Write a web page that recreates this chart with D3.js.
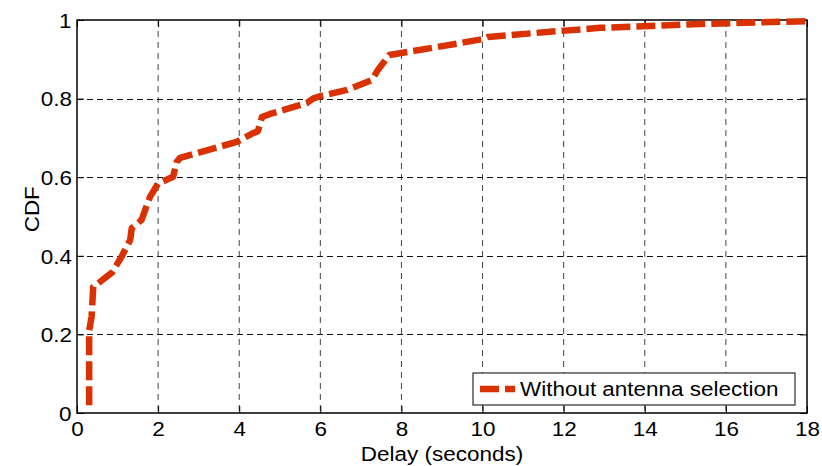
<!DOCTYPE html>
<html>
<head>
<meta charset="utf-8">
<script src="https://cdn.jsdelivr.net/npm/d3@7"></script>
<style>
  html, body { margin: 0; padding: 0; background: #fff; }
  svg text { font-family: "Liberation Sans", Arial, sans-serif; fill: #000;
    transform-box: fill-box; transform-origin: center; }
  .wide { transform: scaleX(1.07); }
</style>
</head>
<body>
<svg id="chart" width="822" height="466"></svg>
<script>
// ---- data ----
const delay = [0.30, 0.30, 0.36, 0.40, 0.57, 0.86, 1.10, 1.31, 1.35, 1.59, 1.80, 2.00, 2.37, 2.46, 2.54, 3.94, 4.34, 4.46, 4.56, 4.76, 5.67, 5.82, 5.99, 6.66, 7.27, 7.42, 7.70, 8.87, 9.99, 10.13, 11.66, 12.9, 15.36, 16.84, 18.0];
const cdf   = [0.02, 0.21, 0.245, 0.321, 0.334, 0.357, 0.398, 0.44, 0.47, 0.491, 0.55, 0.584, 0.601, 0.639, 0.649, 0.69, 0.712, 0.717, 0.753, 0.761, 0.789, 0.80, 0.806, 0.822, 0.847, 0.873, 0.911, 0.931, 0.951, 0.957, 0.97, 0.98, 0.99, 0.994, 0.997];
const xTicks = [0, 2, 4, 6, 8, 10, 12, 14, 16, 18];
const yTicks = [0, 0.2, 0.4, 0.6, 0.8, 1];
const yTickLabels = ["0", "0.2", "0.4", "0.6", "0.8", "1"];
const seriesName = "Without antenna selection";
const xLabel = "Delay (seconds)";
const yLabel = "CDF";

// ---- layout ----
const L = 77, R = 807, T = 20, B = 413;
const color = "#da3100";
const svg = d3.select("#chart");
const x = d3.scaleLinear().domain([0, 18]).range([L, R]);
const y = d3.scaleLinear().domain([0, 1]).range([B, T]);

// grid
const grid = svg.append("g");
grid.selectAll(".vg").data(xTicks.slice(1, -1)).enter().append("line")
  .attr("x1", d => x(d)).attr("x2", d => x(d)).attr("y1", T).attr("y2", B)
  .attr("stroke", "#444").attr("stroke-width", 1).attr("stroke-dasharray", "6,5");
grid.selectAll(".hg").data(yTicks.slice(1, -1)).enter().append("line")
  .attr("x1", L).attr("x2", R).attr("y1", d => Math.round(y(d)) + 0.5).attr("y2", d => Math.round(y(d)) + 0.5)
  .attr("stroke", "#111").attr("stroke-width", 1).attr("stroke-dasharray", "6,4");

// axes (ticks inside)
const xAxis = svg.append("g").attr("transform", `translate(0,${B})`)
  .call(d3.axisBottom(x).tickValues(xTicks).tickSize(-7).tickPadding(10).tickFormat(d3.format("d")));
const xAxisTop = svg.append("g").attr("transform", `translate(0,${T})`)
  .call(d3.axisTop(x).tickValues(xTicks).tickSize(-7).tickFormat(""));
const yAxis = svg.append("g").attr("transform", `translate(${L},0)`)
  .call(d3.axisLeft(y).tickValues(yTicks).tickSize(-7).tickPadding(6).tickFormat((d, i) => yTickLabels[i]));
const yAxisR = svg.append("g").attr("transform", `translate(${R},0)`)
  .call(d3.axisRight(y).tickValues(yTicks).tickSize(-7).tickFormat(""));
[xAxis, xAxisTop, yAxis, yAxisR].forEach(a => {
  a.select(".domain").remove();
  a.selectAll("line").attr("stroke", "#000").attr("stroke-width", 1);
  a.selectAll("text").attr("font-size", 21).attr("font-family", "Liberation Sans, Arial, sans-serif").attr("class", "wide");
});
xAxis.selectAll("text").attr("dy", "0.71em").attr("y", 8);
yAxis.selectAll("text").attr("dy", "0.35em");

// frame
svg.append("rect").attr("x", L).attr("y", T).attr("width", R - L).attr("height", B - T)
  .attr("fill", "none").attr("stroke", "#000").attr("stroke-width", 1.5);

// series
const pts = delay.map((d, i) => [d, cdf[i]]);
svg.append("path").datum(pts)
  .attr("d", d3.line().x(d => x(d[0])).y(d => y(d[1])))
  .attr("fill", "none").attr("stroke", color).attr("stroke-width", 6.5)
  .attr("stroke-dasharray", "19,6").attr("stroke-linejoin", "round");

// labels
svg.append("text").attr("class", "wide").attr("x", (L + R) / 2).attr("y", 461)
  .attr("text-anchor", "middle").attr("font-size", 21).text(xLabel);
svg.append("text").attr("transform", `translate(32,${(T + B) / 2}) rotate(-90) scale(1.07,1)`)
  .attr("text-anchor", "middle").attr("font-size", 21).text(yLabel);

// legend
const lg = svg.append("g");
lg.append("rect").attr("x", 473).attr("y", 373).attr("width", 322).attr("height", 32)
  .attr("fill", "#fff").attr("stroke", "#000").attr("stroke-width", 1);
lg.append("line").attr("x1", 480).attr("x2", 515).attr("y1", 389).attr("y2", 389)
  .attr("stroke", color).attr("stroke-width", 6.5).attr("stroke-dasharray", "19,6");
lg.append("text").attr("class", "wide").attr("x", 520).attr("y", 396.5).attr("font-size", 21)
  .attr("text-anchor", "start").style("transform-origin", "left center").text(seriesName);
</script>
</body>
</html>
